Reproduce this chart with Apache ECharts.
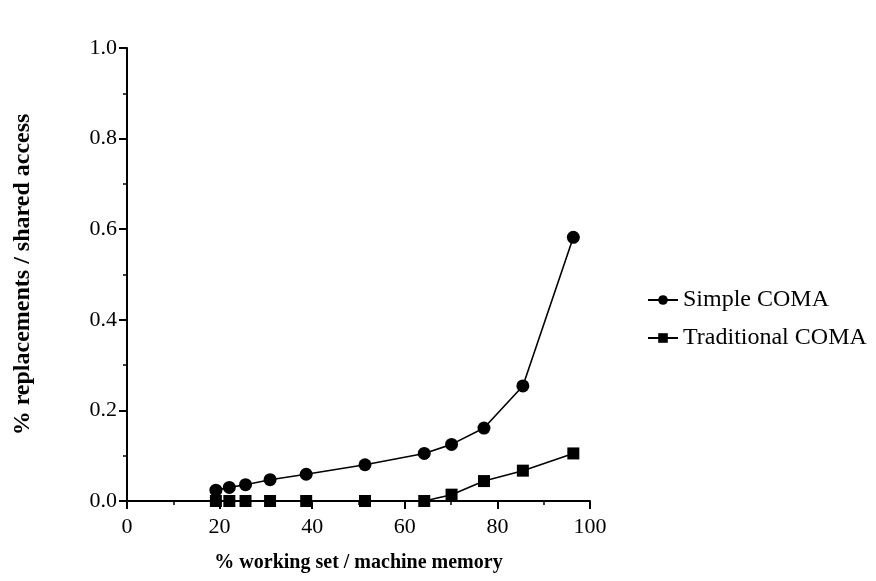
<!DOCTYPE html>
<html>
<head>
<meta charset="utf-8">
<script src="https://cdn.jsdelivr.net/npm/echarts@6/dist/echarts.min.js"></script>
<style>
  html, body { margin: 0; padding: 0; background: #fff; }
  #chart { width: 876px; height: 581px; }
</style>
</head>
<body>
<div id="chart"></div>
<script>
// % working set / machine memory for each run
const workingSet = [19.2, 22.1, 25.6, 30.9, 38.7, 51.4, 64.2, 70.1, 77.1, 85.5, 96.4];
// % replacements / shared access
const simpleComa = [0.024, 0.030, 0.036, 0.047, 0.059, 0.080, 0.105, 0.125, 0.161, 0.254, 0.582];
const traditionalComa = [0, 0, 0, 0, 0, 0, 0, 0.014, 0.044, 0.067, 0.105];

const seriesNames = ['Simple COMA', 'Traditional COMA'];
const xTitle = '% working set / machine memory';
const yTitle = '% replacements / shared access';

const serif = '"Liberation Serif", "DejaVu Serif", serif';

const pairs = (ys) => workingSet.map((x, i) => [x, ys[i]]);

const chart = echarts.init(document.getElementById('chart'), null, { renderer: 'canvas' });

chart.setOption({
  animation: false,
  backgroundColor: '#ffffff',
  textStyle: { fontFamily: serif, color: '#000' },
  grid: { left: 127, right: 286, top: 48, bottom: 80, containLabel: false },
  legend: {
    orient: 'vertical',
    left: 642,
    top: 283,
    itemGap: 14,
    itemWidth: 30,
    itemHeight: 12,
    textStyle: { fontFamily: serif, fontSize: 24, color: '#000' },
    data: seriesNames
  },
  xAxis: {
    type: 'value',
    min: 0,
    max: 100,
    interval: 20,
    name: xTitle,
    nameLocation: 'middle',
    nameGap: 52,
    nameTextStyle: { fontFamily: serif, fontSize: 20, fontWeight: 'bold', color: '#000' },
    axisLine: { show: true, onZero: false, lineStyle: { color: '#000', width: 2 } },
    axisTick: { show: true, inside: false, length: 8, lineStyle: { color: '#000', width: 2 } },
    minorTick: { show: true, splitNumber: 2, length: 4, lineStyle: { color: '#000', width: 1.5 } },
    axisLabel: { fontFamily: serif, fontSize: 22, color: '#000', margin: 15 },
    splitLine: { show: false }
  },
  yAxis: {
    type: 'value',
    min: 0,
    max: 1,
    interval: 0.2,
    name: yTitle,
    nameLocation: 'middle',
    nameRotate: 90,
    nameGap: 92,
    nameTextStyle: { fontFamily: serif, fontSize: 24, fontWeight: 'bold', color: '#000' },
    axisLine: { show: true, onZero: false, lineStyle: { color: '#000', width: 2 } },
    axisTick: { show: true, inside: false, length: 8, lineStyle: { color: '#000', width: 2 } },
    minorTick: { show: true, splitNumber: 2, length: 4, lineStyle: { color: '#000', width: 1.5 } },
    axisLabel: {
      fontFamily: serif, fontSize: 22, color: '#000', margin: 10,
      formatter: (v) => v.toFixed(1)
    },
    splitLine: { show: false }
  },
  series: [
    {
      name: seriesNames[0],
      type: 'line',
      data: pairs(simpleComa),
      symbol: 'circle',
      symbolSize: 13,
      itemStyle: { color: '#000' },
      lineStyle: { color: '#000', width: 1.6 },
      z: 3
    },
    {
      name: seriesNames[1],
      type: 'line',
      data: pairs(traditionalComa),
      symbol: 'rect',
      symbolSize: 12,
      itemStyle: { color: '#000' },
      lineStyle: { color: '#000', width: 1.6 },
      z: 4
    }
  ]
});
</script>
</body>
</html>
